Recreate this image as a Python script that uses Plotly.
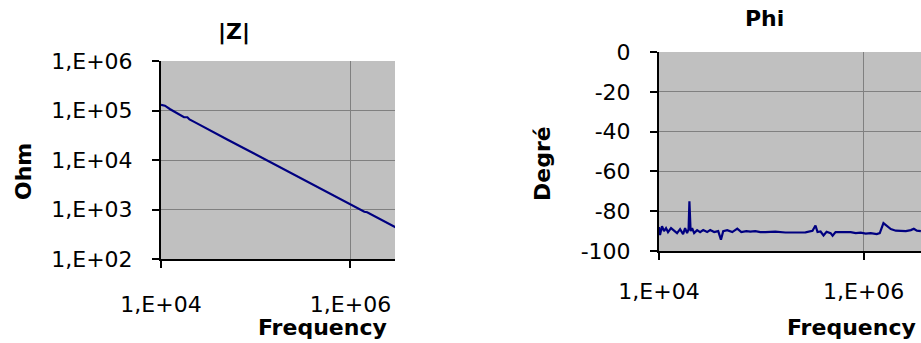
import plotly.graph_objects as go

# |Z| (Ohm) vs frequency
freq_z = [1.0e4, 1.1e4, 1.25e4, 1.4e4, 1.6e4, 1.75e4, 1.9e4, 2.0e4, 2.4e4, 3.0e4,
          4.0e4, 5.0e4, 7.0e4, 1.0e5, 1.5e5, 2.0e5, 3.0e5, 5.0e5, 7.0e5, 1.0e6,
          1.2e6, 1.4e6, 1.5e6, 1.7e6, 2.0e6, 2.5e6, 3.0e6]
z_ohm = [1.30e5, 1.25e5, 1.06e5, 9.4e4, 8.0e4, 7.3e4, 7.3e4, 6.6e4, 5.5e4, 4.35e4,
         3.25e4, 2.6e4, 1.86e4, 1.30e4, 8.7e3, 6.5e3, 4.3e3, 2.6e3, 1.86e3, 1.30e3,
         1.08e3, 900, 880, 770, 650, 520, 435]

# Phi (degrees) vs frequency
freq_phi = [1.000e4, 1.023e4, 1.070e4, 1.119e4, 1.171e4, 1.225e4, 1.311e4, 1.403e4, 1.501e4, 1.607e4,
            1.719e4, 1.798e4, 1.881e4, 1.946e4, 1.982e4, 2.036e4, 2.106e4, 2.203e4, 2.358e4, 2.523e4,
            2.70e4, 2.955e4, 3.162e4, 3.46e4, 3.79e4, 4.03e4, 4.24e4, 4.64e4, 5.20e4, 5.82e4,
            6.37e4, 7.13e4, 7.80e4, 8.73e4, 9.78e4, 1.094e5, 1.371e5, 1.718e5, 2.153e5, 2.70e5,
            3.16e5, 3.38e5, 3.54e5, 3.79e5, 4.05e5, 4.34e5, 4.75e5, 4.97e5, 5.31e5, 5.95e5,
            6.66e5, 7.46e5, 8.36e5, 9.35e5, 1.047e6, 1.172e6, 1.341e6, 1.436e6, 1.56e6, 1.68e6,
            1.84e6, 2.06e6, 2.31e6, 2.58e6, 2.89e6, 3.09e6, 3.31e6, 3.62e6]
phi_deg = [-88, -92, -87.5, -90, -88.5, -90.5, -88.5, -90, -91, -89,
           -91.5, -88.5, -91, -89, -75, -90, -88.5, -91, -89.5, -90.5,
           -89.5, -90.5, -89.5, -90.5, -90, -94.3, -90, -89.5, -90.5, -88.8,
           -90.5, -90, -90.3, -90, -90.5, -90.5, -90.3, -90.7, -90.7, -90.6,
           -89.8, -87.2, -90.5, -90.2, -92.2, -90.3, -91, -92.3, -90.5, -90.5,
           -90.8, -90.5, -91, -90.8, -91.3, -91, -91.5, -91, -86, -87.5,
           -89, -89.8, -90, -90, -89.5, -88.8, -89.8, -90]

x_ticks = [1e4, 1e6]
x_ticktext = ["1,E+04", "1,E+06"]
z_ticks = [1e2, 1e3, 1e4, 1e5, 1e6]
z_ticktext = ["1,E+02", "1,E+03", "1,E+04", "1,E+05", "1,E+06"]
phi_ticks = [0, -20, -40, -60, -80, -100]
phi_ticktext = ["0", "-20", "-40", "-60", "-80", "-100"]

FONT = "DejaVu Sans"
W, H = 921, 343

fig = go.Figure()
fig.add_trace(go.Scatter(x=freq_z, y=z_ohm, mode="lines", xaxis="x", yaxis="y",
                         line=dict(color="#000080", width=2.2), showlegend=False))
fig.add_trace(go.Scatter(x=freq_phi, y=phi_deg, mode="lines", xaxis="x2", yaxis="y2",
                         line=dict(color="#000080", width=2.2), showlegend=False))

axis_common = dict(showline=True, linecolor="black", linewidth=2, mirror=False,
                   ticks="outside", ticklen=7, tickwidth=1.5, tickcolor="black",
                   showgrid=True, gridcolor="#808080", gridwidth=1, zeroline=False,
                   automargin=False,
                   tickfont=dict(family=FONT, size=22, color="black"))

fig.update_layout(
    width=W, height=H,
    margin=dict(l=0, r=0, t=0, b=0, autoexpand=False),
    paper_bgcolor="white", plot_bgcolor="#C0C0C0",
    xaxis=dict(type="log", range=[4, 6.47], domain=[161 / W, 395 / W], anchor="y",
               tickvals=x_ticks, ticktext=x_ticktext, ticklabelstandoff=18, **axis_common),
    yaxis=dict(type="log", range=[2, 6], domain=[1 - 259 / H, 1 - 61 / H], anchor="x",
               tickvals=z_ticks, ticktext=z_ticktext, ticklabelstandoff=15, **axis_common),
    xaxis2=dict(type="log", range=[4, 6.56], domain=[659 / W, 1.0], anchor="y2",
                tickvals=x_ticks, ticktext=x_ticktext, ticklabelstandoff=13, **axis_common),
    yaxis2=dict(range=[-100, 0], domain=[1 - 251 / H, 1 - 52 / H], anchor="x2",
                tickvals=phi_ticks, ticktext=phi_ticktext, ticklabelstandoff=15, **axis_common),
)

labels = [
    ("<b>|Z|</b>", 234, 32, 0),
    ("<b>Phi</b>", 764, 19, 0),
    ("<b>Ohm</b>", 23, 172, -90),
    ("<b>Degré</b>", 543, 164, -90),
    ("<b>Frequency</b>", 322, 327, 0),
    ("<b>Frequency</b>", 851, 327, 0),
]
for text, px_x, px_y, ang in labels:
    fig.add_annotation(text=text, x=px_x / W, y=1 - px_y / H, xref="paper", yref="paper",
                       xanchor="center", yanchor="middle", showarrow=False, textangle=ang,
                       font=dict(family=FONT, size=22, color="black"))

# the page body has a default 8px margin; drop it so the figure sits at the window corner
fig.write_html("out.html", config={"displayModeBar": False},
               post_script="document.body.style.margin='0';")
